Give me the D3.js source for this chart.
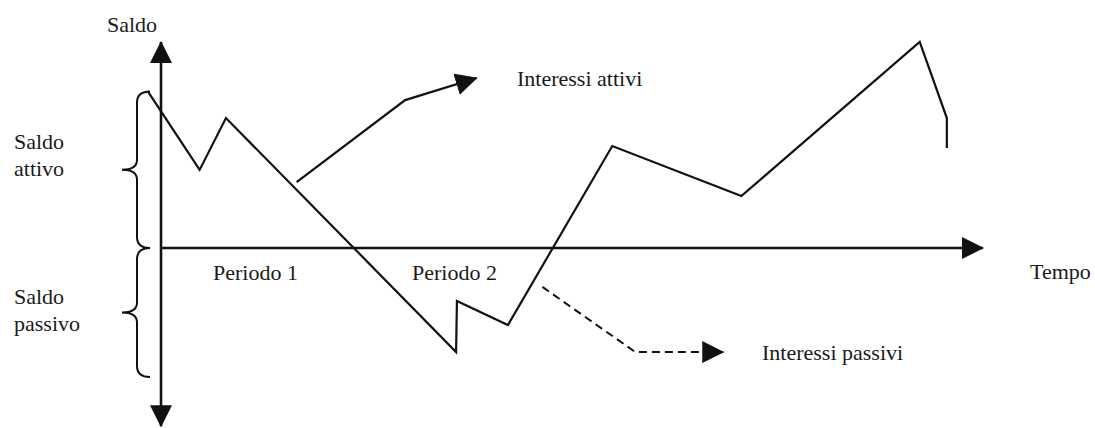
<!DOCTYPE html>
<html>
<head>
<meta charset="utf-8">
<script src="https://cdn.jsdelivr.net/npm/d3@7"></script>
<style>
    html, body { margin: 0; padding: 0; background: #fff; }
    svg { display: block; }
    text { font-family: "Liberation Serif", "DejaVu Serif", serif; font-size: 22px; fill: #1a1a1a; }
</style>
</head>
<body>
<svg id="svg" width="1095" height="428"></svg>
<script>
// andamento del saldo nel tempo (unità arbitrarie, origine = incrocio assi)
var tempo = [-1.6, 4.7, 7.9, 35.9, 36.0, 42.2, 54.9, 70.6, 92.3, 95.6, 95.6];
var saldo = [76, 37.9, 63.1, -50.5, -25.7, -37.4, 49.5, 25.2, 100, 63.1, 48.5];

// freccia "Interessi attivi"
var attiviTempo = [16.5, 29.7, 38.4];
var attiviSaldo = [32.0, 71.8, 82.5];

// freccia tratteggiata "Interessi passivi"
var passiviTempo = [46.4, 57.7, 68.4];
var passiviSaldo = [-18.9, -50.5, -50.5];

// graffe a sinistra: estremi di saldo
var graffe = [
    {nome: ["Saldo", "attivo"], da: 76, a: 0},
    {nome: ["Saldo", "passivo"], da: 0, a: -62.6}
];

// estremi degli assi
var assiTempo = [0, 100];
var assiSaldo = [-86.5, 100];

var svg = d3.select("svg");

var x = d3.scaleLinear().domain([0, 100]).range([161, 983]);
var y = d3.scaleLinear().domain([0, 100]).range([248, 42]);

// punte di freccia
var defs = svg.append("defs");
defs.append("marker")
    .attr("id", "punta")
    .attr("markerUnits", "userSpaceOnUse")
    .attr("viewBox", "0 0 22 22")
    .attr("markerWidth", 22)
    .attr("markerHeight", 22)
    .attr("refX", 21)
    .attr("refY", 11)
    .attr("orient", "auto")
    .append("path")
    .attr("d", "M0,0 L22,11 L0,22 Z")
    .attr("fill", "#111");

var line = d3.line()
    .x(function (d) { return x(d[0]); })
    .y(function (d) { return y(d[1]); });

// asse verticale (frecce su entrambi i lati)
svg.append("path")
    .attr("d", line([[0, 0], [0, assiSaldo[1]]]))
    .attr("stroke", "#111").attr("stroke-width", 2.6)
    .attr("marker-end", "url(#punta)");
svg.append("path")
    .attr("d", line([[0, 0], [0, assiSaldo[0]]]))
    .attr("stroke", "#111").attr("stroke-width", 2.6)
    .attr("marker-end", "url(#punta)");

// asse orizzontale
svg.append("path")
    .attr("d", line([[assiTempo[0], 0], [assiTempo[1], 0]]))
    .attr("stroke", "#111").attr("stroke-width", 2.6)
    .attr("marker-end", "url(#punta)");

// linea del saldo
svg.append("path")
    .datum(d3.zip(tempo, saldo))
    .attr("d", line)
    .attr("fill", "none")
    .attr("stroke", "#111")
    .attr("stroke-width", 2.2)
    .attr("stroke-linejoin", "miter");

// freccia interessi attivi
svg.append("path")
    .datum(d3.zip(attiviTempo, attiviSaldo))
    .attr("d", line)
    .attr("fill", "none")
    .attr("stroke", "#111")
    .attr("stroke-width", 2.2)
    .attr("marker-end", "url(#punta)");

// freccia interessi passivi (tratteggiata)
svg.append("path")
    .datum(d3.zip(passiviTempo, passiviSaldo))
    .attr("d", line)
    .attr("fill", "none")
    .attr("stroke", "#111")
    .attr("stroke-width", 2)
    .attr("stroke-dasharray", "8,5")
    .attr("marker-end", "url(#punta)");

// graffe
var dorso = x(0) - 24, becco = x(0) - 39, fine = x(0) - 11;
var scartoTesto = [-21, -8];
graffe.forEach(function (g, k) {
    var y0 = y(g.da), y1 = y(g.a), ym = (y0 + y1) / 2;
    var p = d3.path();
    p.moveTo(fine, y0);
    p.quadraticCurveTo(dorso, y0, dorso, y0 + 11);
    p.lineTo(dorso, ym - 10);
    p.quadraticCurveTo(dorso, ym, becco, ym);
    p.quadraticCurveTo(dorso, ym, dorso, ym + 10);
    p.lineTo(dorso, y1 - 11);
    p.quadraticCurveTo(dorso, y1, fine, y1);
    svg.append("path")
        .attr("d", p.toString())
        .attr("fill", "none")
        .attr("stroke", "#111")
        .attr("stroke-width", 2);

    svg.append("text")
        .attr("x", 14)
        .attr("y", ym + scartoTesto[k])
        .selectAll("tspan")
        .data(g.nome)
        .enter().append("tspan")
        .attr("x", 14)
        .attr("dy", function (d, i) { return i === 0 ? 0 : 27; })
        .text(function (d) { return d; });
});

// etichette
svg.append("text").attr("x", 107).attr("y", 32).text("Saldo");
svg.append("text").attr("x", 1030).attr("y", 279).text("Tempo");
svg.append("text").attr("x", 213).attr("y", 280).text("Periodo 1");
svg.append("text").attr("x", 412).attr("y", 280).text("Periodo 2");
svg.append("text").attr("x", 517).attr("y", 86).text("Interessi attivi");
svg.append("text").attr("x", 762).attr("y", 360).text("Interessi passivi");
</script>
</body>
</html>
